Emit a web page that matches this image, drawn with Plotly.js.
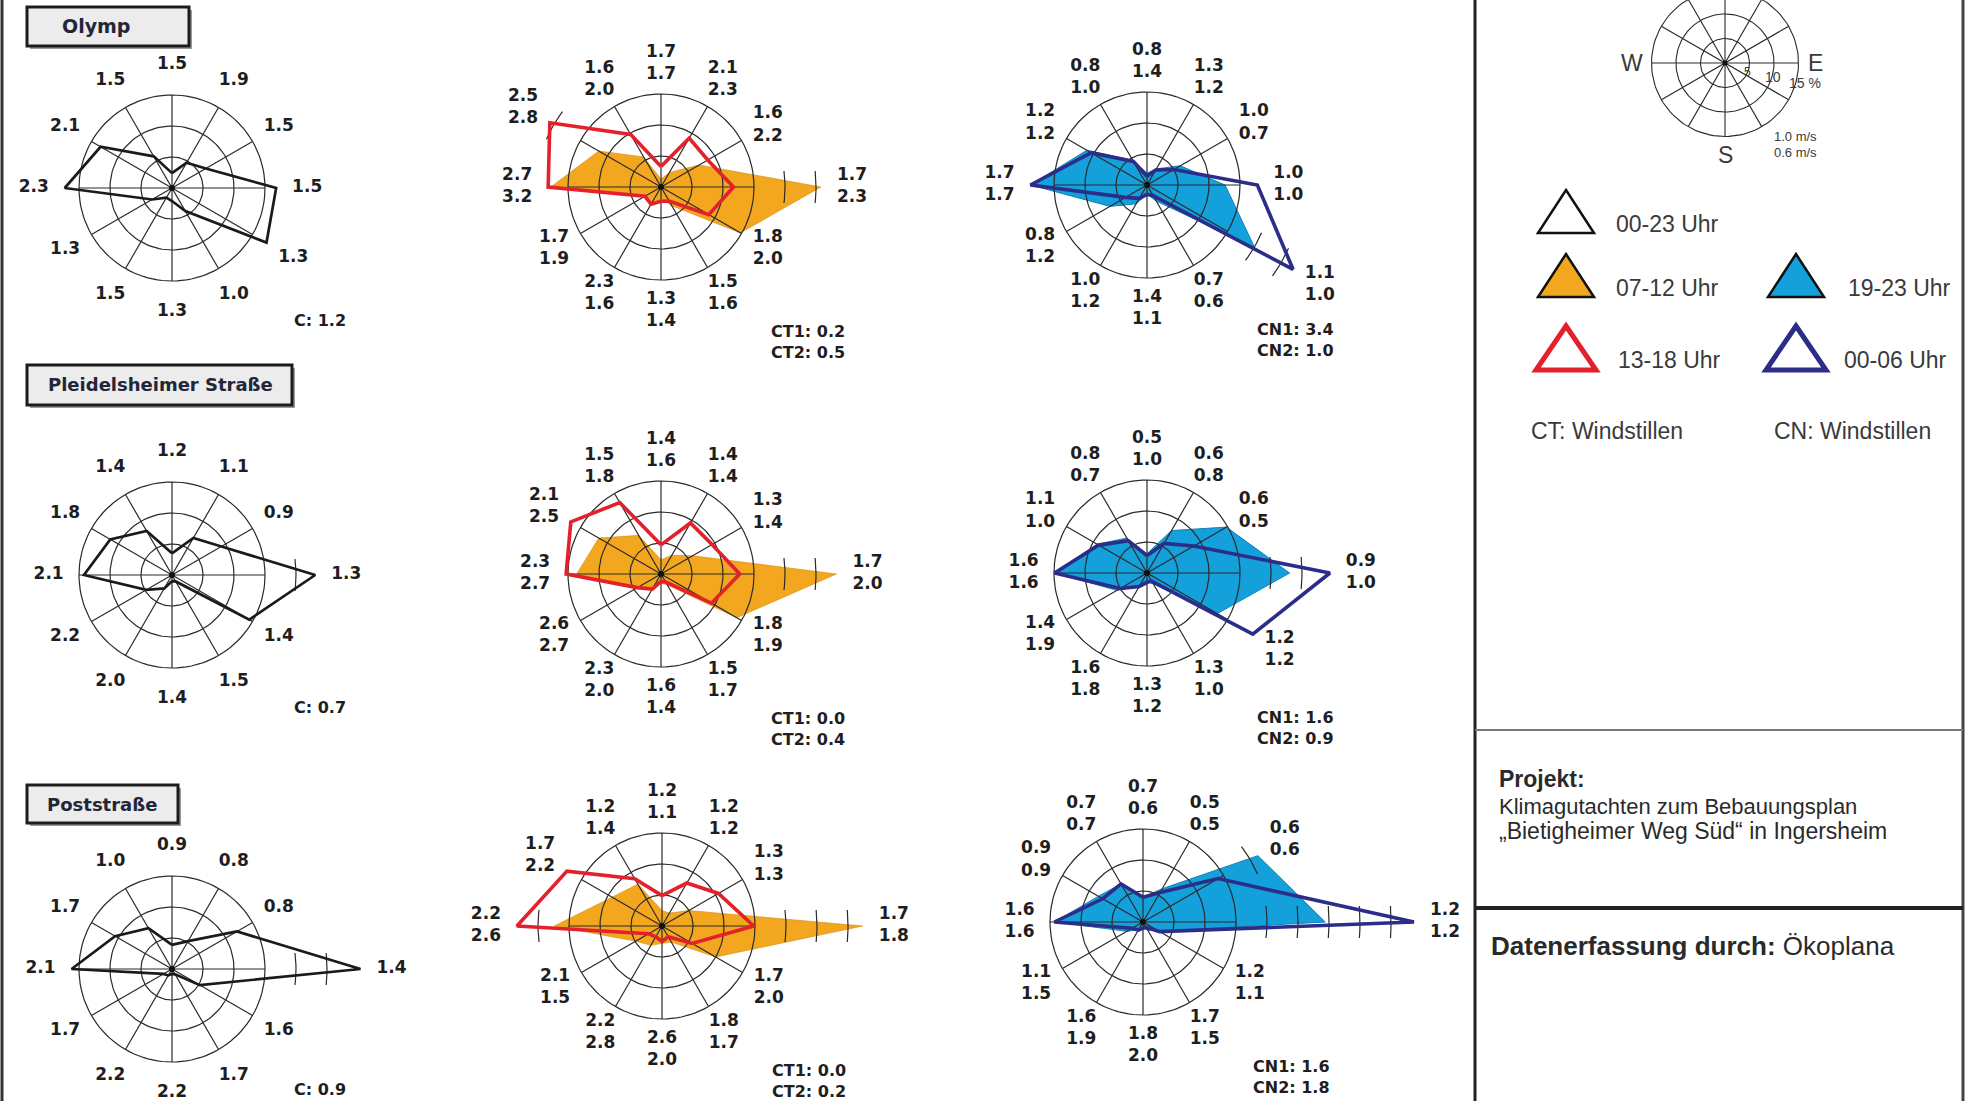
<!DOCTYPE html>
<html><head><meta charset="utf-8">
<script src="https://cdn.plot.ly/plotly-3.0.1.min.js"></script>
<style>html,body{margin:0;padding:0;background:#fff;overflow:hidden}#chart{width:1968px;height:1101px}</style>
</head><body><div id="chart"></div>
<script>
// ---------------- DATA ----------------
const directions = [0, 30, 60, 90, 120, 150, 180, 210, 240, 270, 300, 330];
const stationNames = ['Olymp', 'Pleidelsheimer Straße', 'Poststraße'];
const seriesNames = ['00-23 Uhr', '07-12 Uhr', '13-18 Uhr', '19-23 Uhr', '00-06 Uhr'];

// Olymp
const olympAllFreq   = [2.4, 4.7, 6.3, 16.8, 17.6, 4.3, 2.1, 1.8, 3.7, 17.3, 13.3, 5.9];
const olympAllSpeed  = [1.5, 1.9, 1.5, 1.5, 1.3, 1.0, 1.3, 1.5, 1.3, 2.3, 2.1, 1.5];
const olympAllCalm   = [1.2];
const olympMornFreq  = [1.3, 2.7, 7.1, 25.8, 14.8, 3.5, 1.9, 3.1, 3.1, 17.8, 11.6, 5.6];
const olympMornSpeed = [1.7, 2.1, 1.6, 1.7, 1.8, 1.5, 1.3, 2.3, 1.7, 2.7, 2.5, 1.6];
const olympAftFreq   = [3.3, 9.1, 8.7, 11.7, 8.9, 2.6, 2.3, 3.2, 3.0, 18.2, 20.7, 9.8];
const olympAftSpeed  = [1.7, 2.3, 2.2, 2.3, 2.0, 1.6, 1.4, 1.6, 1.9, 3.2, 2.8, 2.0];
const olympDayCalm   = [0.2, 0.5];
const olympEveFreq   = [1.9, 3.0, 6.2, 12.6, 20.0, 3.0, 1.5, 3.5, 6.9, 18.8, 11.2, 4.6];
const olympEveSpeed  = [0.8, 1.3, 1.0, 1.0, 1.1, 0.7, 1.4, 1.0, 0.8, 1.7, 1.2, 0.8];
const olympNightFreq = [1.4, 2.8, 5.0, 17.8, 27.2, 2.0, 1.5, 2.5, 4.0, 18.8, 10.4, 4.4];
const olympNightSpeed= [1.4, 1.2, 0.7, 1.0, 1.0, 0.6, 1.1, 1.2, 1.2, 1.7, 1.2, 1.0];
const olympNightCalm = [3.4, 1.0];

// Pleidelsheimer Straße
const pleidAllFreq   = [3.5, 6.9, 9.2, 23.1, 14.4, 1.2, 1.0, 2.5, 4.8, 14.2, 11.5, 8.2];
const pleidAllSpeed  = [1.2, 1.1, 0.9, 1.3, 1.4, 1.5, 1.4, 2.0, 2.2, 2.1, 1.8, 1.4];
const pleidAllCalm   = [0.7];
const pleidMornFreq  = [2.3, 3.5, 5.9, 28.3, 14.1, 2.0, 1.5, 2.9, 4.6, 13.6, 11.6, 7.2];
const pleidMornSpeed = [1.4, 1.4, 1.3, 1.7, 1.8, 1.5, 1.6, 2.3, 2.6, 2.3, 2.1, 1.5];
const pleidAftFreq   = [4.7, 9.5, 9.5, 12.7, 9.4, 1.5, 1.2, 2.8, 4.4, 15.3, 16.8, 13.3];
const pleidAftSpeed  = [1.6, 1.4, 1.4, 2.0, 1.9, 1.7, 1.4, 2.0, 2.7, 2.7, 2.5, 1.8];
const pleidDayCalm   = [0.0, 0.4];
const pleidEveFreq   = [3.1, 7.9, 14.8, 23.0, 13.1, 2.0, 1.5, 2.5, 5.6, 14.9, 9.3, 6.5];
const pleidEveSpeed  = [0.5, 0.6, 0.6, 0.9, 1.2, 1.3, 1.3, 1.6, 1.4, 1.6, 1.1, 0.8];
const pleidNightFreq = [2.8, 5.5, 8.7, 29.5, 19.7, 1.5, 1.5, 2.5, 5.0, 14.9, 9.0, 6.0];
const pleidNightSpeed= [1.0, 0.8, 0.5, 1.0, 1.2, 1.0, 1.2, 1.8, 1.9, 1.6, 1.0, 0.7];
const pleidNightCalm = [1.6, 0.9];

// Poststraße
const postAllFreq    = [3.9, 5.2, 12.1, 30.4, 5.2, 1.0, 0.8, 1.2, 1.6, 16.2, 10.6, 7.6];
const postAllSpeed   = [0.9, 0.8, 0.8, 1.4, 1.6, 1.7, 2.2, 2.2, 1.7, 2.1, 1.7, 1.0];
const postAllCalm    = [0.9];
const postMornFreq   = [2.5, 2.4, 5.0, 32.4, 10.0, 3.0, 2.8, 3.6, 4.9, 17.4, 9.3, 7.8];
const postMornSpeed  = [1.2, 1.2, 1.3, 1.7, 1.7, 1.8, 2.6, 2.2, 2.1, 2.2, 1.7, 1.2];
const postAftFreq    = [4.9, 8.0, 10.5, 14.8, 5.6, 2.0, 2.5, 2.0, 2.5, 23.4, 17.7, 8.8];
const postAftSpeed   = [1.1, 1.2, 1.3, 1.8, 2.0, 1.7, 2.0, 2.8, 1.5, 2.6, 2.2, 1.4];
const postDayCalm    = [0.0, 0.2];
const postEveFreq    = [4.0, 6.2, 21.4, 29.4, 3.0, 1.5, 1.0, 1.5, 3.0, 14.3, 8.3, 7.1];
const postEveSpeed   = [0.7, 0.5, 0.6, 1.2, 1.2, 1.7, 1.8, 1.6, 1.1, 1.6, 0.9, 0.7];
const postNightFreq  = [4.0, 5.5, 14.0, 43.7, 3.1, 1.0, 1.0, 1.5, 2.0, 14.3, 7.5, 7.1];
const postNightSpeed = [0.6, 0.5, 0.6, 1.2, 1.1, 1.5, 2.0, 1.9, 1.5, 1.6, 0.9, 0.7];
const postNightCalm  = [1.6, 1.8];

const gridRings = [5, 10, 15];
const legendRingLabels = ['5', '10', '15 %'];
const legendSpeedLabels = ['1.0 m/s', '0.6 m/s'];

// ---------------- STYLES / GEOMETRY ----------------
const W = 1968, H = 1101, S = 6.2;
const COL = {orange:'#f3a71f', red:'#e4202a', blue:'#14a0da', navy:'#2b2d88', black:'#1a1a1a', grid:'#2a2a2a', text:'#222'};
const styles = {
  all:   {fill:null, line:COL.black, width:2.7},
  morn:  {fill:COL.orange, line:'#d08c12', width:0.6},
  aft:   {fill:null, line:COL.red, width:3.6},
  eve:   {fill:COL.blue, line:'#1282b8', width:1},
  night: {fill:null, line:COL.navy, width:3.6}
};
const geo = [
  {cx:172, cy:188, x0:4,   x1:430,  y0:0,   y1:360},
  {cx:661, cy:187, x0:430, x1:930,  y0:0,   y1:360},
  {cx:1147,cy:185, x0:930, x1:1472, y0:0,   y1:360},
  {cx:172, cy:575, x0:4,   x1:430,  y0:360, y1:760},
  {cx:661, cy:574, x0:430, x1:930,  y0:360, y1:760},
  {cx:1147,cy:573, x0:930, x1:1472, y0:360, y1:760},
  {cx:172, cy:969, x0:4,   x1:430,  y0:760, y1:1101},
  {cx:662, cy:926, x0:430, x1:930,  y0:760, y1:1101},
  {cx:1143,cy:922, x0:930, x1:1472, y0:760, y1:1101}
];
const panels = [
  {series:[['all', olympAllFreq]], speeds:[olympAllSpeed], calm:olympAllCalm, calmNames:['C']},
  {series:[['morn', olympMornFreq], ['aft', olympAftFreq]], speeds:[olympMornSpeed, olympAftSpeed], calm:olympDayCalm, calmNames:['CT1','CT2']},
  {series:[['eve', olympEveFreq], ['night', olympNightFreq]], speeds:[olympEveSpeed, olympNightSpeed], calm:olympNightCalm, calmNames:['CN1','CN2']},
  {series:[['all', pleidAllFreq]], speeds:[pleidAllSpeed], calm:pleidAllCalm, calmNames:['C']},
  {series:[['morn', pleidMornFreq], ['aft', pleidAftFreq]], speeds:[pleidMornSpeed, pleidAftSpeed], calm:pleidDayCalm, calmNames:['CT1','CT2']},
  {series:[['eve', pleidEveFreq], ['night', pleidNightFreq]], speeds:[pleidEveSpeed, pleidNightSpeed], calm:pleidNightCalm, calmNames:['CN1','CN2']},
  {series:[['all', postAllFreq]], speeds:[postAllSpeed], calm:postAllCalm, calmNames:['C']},
  {series:[['morn', postMornFreq], ['aft', postAftFreq]], speeds:[postMornSpeed, postAftSpeed], calm:postDayCalm, calmNames:['CT1','CT2']},
  {series:[['eve', postEveFreq], ['night', postNightFreq]], speeds:[postEveSpeed, postNightSpeed], calm:postNightCalm, calmNames:['CN1','CN2']}
];

const fx = x => x / W, fy = y => 1 - y / H;
const rad = d => d * Math.PI / 180;
const traces = [], shapes = [], annotations = [];
const layout = {
  width: W, height: H, autosize: false, margin: {l:0, r:0, t:0, b:0},
  paper_bgcolor: '#fff', plot_bgcolor: 'rgba(0,0,0,0)', showlegend: false,
  font: {family: 'Liberation Sans, Arial, sans-serif', color: COL.text}
};

function addAxes(k, g, s) {
  const sx = k === 1 ? '' : String(k);
  layout['xaxis' + sx] = {domain:[fx(g.x0), fx(g.x1)], range:[(g.x0 - g.cx) / s, (g.x1 - g.cx) / s], visible:false, fixedrange:true, anchor:'y' + sx};
  layout['yaxis' + sx] = {domain:[fy(g.y1), fy(g.y0)], range:[(g.cy - g.y1) / s, (g.cy - g.y0) / s], visible:false, fixedrange:true, anchor:'x' + sx};
  return {xa: 'x' + sx, ya: 'y' + sx};
}
function gridTrace(ax, width) {
  const xs = [], ys = [];
  gridRings.forEach(r => {
    for (let a = 0; a <= 360; a += 3) { xs.push(r * Math.sin(rad(a))); ys.push(r * Math.cos(rad(a))); }
    xs.push(null); ys.push(null);
  });
  const R = gridRings[gridRings.length - 1];
  for (let d = 0; d < 180; d += 30) {
    xs.push(R * Math.sin(rad(d)), -R * Math.sin(rad(d)), null);
    ys.push(R * Math.cos(rad(d)), -R * Math.cos(rad(d)), null);
  }
  return {type:'scatter', mode:'lines', x:xs, y:ys, xaxis:ax.xa, yaxis:ax.ya, hoverinfo:'skip',
          line:{color:COL.grid, width:width}};
}

panels.forEach((p, idx) => {
  const g = geo[idx];
  const ax = addAxes(idx + 1, g, S);
  p.series.forEach(([key, freq]) => {
    const st = styles[key];
    if (!st.fill) return;
    const x = freq.map((r, i) => r * Math.sin(rad(directions[i])));
    const y = freq.map((r, i) => r * Math.cos(rad(directions[i])));
    x.push(x[0]); y.push(y[0]);
    traces.push({type:'scatter', mode:'lines', x, y, xaxis:ax.xa, yaxis:ax.ya, fill:'toself',
                 fillcolor:st.fill, line:{color:st.line, width:st.width}, hoverinfo:'skip'});
  });
  traces.push(gridTrace(ax, 1.2));
  const tx = [], ty = [];
  directions.forEach((d, i) => {
    const vmax = Math.max(...p.series.map(s => s[1][i]));
    for (let lev = 20; lev < vmax - 0.5; lev += 5) {
      const half = 16 / (lev * S);
      for (let t = -half; t <= half + 1e-9; t += half / 4) {
        tx.push(lev * Math.sin(rad(d) + t)); ty.push(lev * Math.cos(rad(d) + t));
      }
      tx.push(null); ty.push(null);
    }
  });
  traces.push({type:'scatter', mode:'lines', x:tx, y:ty, xaxis:ax.xa, yaxis:ax.ya, hoverinfo:'skip',
               line:{color:COL.grid, width:1.2}});
  p.series.forEach(([key, freq]) => {
    const st = styles[key];
    if (st.fill) return;
    const x = freq.map((r, i) => r * Math.sin(rad(directions[i])));
    const y = freq.map((r, i) => r * Math.cos(rad(directions[i])));
    x.push(x[0]); y.push(y[0]);
    traces.push({type:'scatter', mode:'lines', x, y, xaxis:ax.xa, yaxis:ax.ya,
                 line:{color:st.line, width:st.width, shape:'linear'}, hoverinfo:'skip'});
  });
  traces.push({type:'scatter', mode:'markers', x:[0], y:[0], xaxis:ax.xa, yaxis:ax.ya, hoverinfo:'skip',
               marker:{color:'#111', size:6}});
  const lx = [], ly = [], lt = [];
  directions.forEach((d, i) => {
    const vmax = Math.max(...p.series.map(s => s[1][i]));
    const r = Math.max(19.9, vmax + 5.0);
    lx.push(r * Math.sin(rad(d))); ly.push(r * Math.cos(rad(d)));
    lt.push(p.speeds.map(s => s[i].toFixed(1)).join('<br>'));
  });
  traces.push({type:'scatter', mode:'text', x:lx, y:ly, text:lt, xaxis:ax.xa, yaxis:ax.ya, hoverinfo:'skip',
               textposition:'middle center', cliponaxis:false,
               textfont:{family:'DejaVu Sans, sans-serif', size:17, color:'#1e1e1e', weight:'bold'}});
  const single = p.calm.length === 1;
  const dy = single ? Math.min(132, H - 12 - g.cy) : 155;
  annotations.push({xref:ax.xa, yref:ax.ya, x:(single ? 120 : 108) / S, y:-dy / S,
    xanchor:'left', yanchor:'middle', align:'left', showarrow:false,
    text: p.calm.map((c, j) => p.calmNames[j] + ': ' + c.toFixed(1)).join('<br>'),
    font:{family:'DejaVu Sans, sans-serif', size:16, color:'#1e1e1e', weight:'bold'}});
});

// ---- station name boxes ----
const boxes = [[27, 189, 7, 46], [27, 292, 365, 405], [27, 178, 785, 823]];
const boxTextX = [96, 160, 102];
stationNames.forEach((name, i) => {
  const b = boxes[i];
  shapes.push({type:'rect', xref:'paper', yref:'paper', x0:fx(b[0] + 3), x1:fx(b[1] + 3), y0:fy(b[3] + 3), y1:fy(b[2] + 3),
               fillcolor:'#9a9a9a', line:{width:0}});
  shapes.push({type:'rect', xref:'paper', yref:'paper', x0:fx(b[0]), x1:fx(b[1]), y0:fy(b[3]), y1:fy(b[2]),
               fillcolor:'#ececec', line:{color:'#1c1c1c', width:3}});
  annotations.push({xref:'paper', yref:'paper', x:fx(boxTextX[i]), y:fy((b[2] + b[3]) / 2),
    xanchor:'center', yanchor:'middle', showarrow:false, text:name,
    font:{family:'DejaVu Sans, sans-serif', size:i === 0 ? 19 : 18, color:'#23263a', weight:'bold'}});
});

// ---- frame lines ----
const frameLine = (x0, y0, x1, y1, c, w) => shapes.push({type:'line', xref:'paper', yref:'paper',
  x0:fx(x0), x1:fx(x1), y0:fy(y0), y1:fy(y1), line:{color:c, width:w}});
frameLine(2, 0, 2, H, '#333', 3);
frameLine(1475, 0, 1475, H, '#222', 3);
frameLine(1963, 0, 1963, H, '#444', 3);
frameLine(1475, 730, 1963, 730, '#777', 2);
frameLine(1475, 908, 1963, 908, '#222', 4);

// ---- legend wind rose ----
const lg = {cx:1725, cy:63, x0:1480, x1:1960, y0:0, y1:185};
const LS = 4.9;
const lax = addAxes(10, lg, LS);
traces.push(gridTrace(lax, 1.1));
traces.push({type:'scatter', mode:'markers', x:[0], y:[0], xaxis:lax.xa, yaxis:lax.ya, hoverinfo:'skip', marker:{color:'#111', size:5}});
const pa = (x, y, text, size, anchor) => annotations.push({xref:'paper', yref:'paper', x:fx(x), y:fy(y), text,
  showarrow:false, xanchor:anchor || 'center', yanchor:'middle', font:{size, color:'#3a3a3a', family:'Liberation Sans, Arial, sans-serif'}});
pa(1632, 63, 'W', 23); pa(1815, 63, 'E', 23); pa(1725, 155, 'S', 23);
const ringLabelPos = [[1747, 72, 12], [1773, 77, 14], [1805, 83, 14]];
legendRingLabels.forEach((t, i) => pa(ringLabelPos[i][0], ringLabelPos[i][1], t, ringLabelPos[i][2]));
pa(1795, 137, legendSpeedLabels[0], 13); pa(1795, 153, legendSpeedLabels[1], 13);

// ---- legend triangles ----
const tri = (cx, top, bot, half, fill, lc, lw) => shapes.push({type:'path', xref:'paper', yref:'paper',
  path:`M ${fx(cx)} ${fy(top)} L ${fx(cx + half)} ${fy(bot)} L ${fx(cx - half)} ${fy(bot)} Z`,
  fillcolor:fill, line:{color:lc, width:lw}});
tri(1566, 190, 233, 28, '#fff', '#111', 2.5);
tri(1566, 254, 297, 28, COL.orange, '#111', 2.5);
tri(1796, 254, 297, 28, COL.blue, '#111', 2.5);
tri(1566, 326, 370, 30, '#fff', COL.red, 5);
tri(1796, 326, 370, 30, '#fff', COL.navy, 5);
const lt = (x, y, t) => annotations.push({xref:'paper', yref:'paper', x:fx(x), y:fy(y), text:t, showarrow:false,
  xanchor:'left', yanchor:'middle', font:{size:23, color:'#3a3a3a', family:'Liberation Sans, Arial, sans-serif'}});
lt(1614, 224, seriesNames[0]);
lt(1614, 288, seriesNames[1]);
lt(1846, 288, seriesNames[3]);
lt(1616, 360, seriesNames[2]);
lt(1842, 360, seriesNames[4]);
lt(1529, 431, 'CT: Windstillen');
lt(1772, 431, 'CN: Windstillen');

// ---- project box ----
const ptxt = (x, y, t, size) => annotations.push({xref:'paper', yref:'paper', x:fx(x), y:fy(y), text:t, showarrow:false,
  xanchor:'left', yanchor:'middle', font:{size, color:'#2a2a2a', family:'Liberation Sans, Arial, sans-serif'}});
ptxt(1497, 779, '<b>Projekt:</b>', 23);
ptxt(1497, 806, 'Klimagutachten zum Bebauungsplan', 22);
ptxt(1497, 831, '„Bietigheimer Weg Süd“ in Ingersheim', 23);
ptxt(1489, 946, '<b>Datenerfassung durch:</b> Ökoplana', 26);

layout.shapes = shapes;
layout.annotations = annotations;
Plotly.newPlot('chart', traces, layout, {displayModeBar:false, staticPlot:true});
</script></body></html>
